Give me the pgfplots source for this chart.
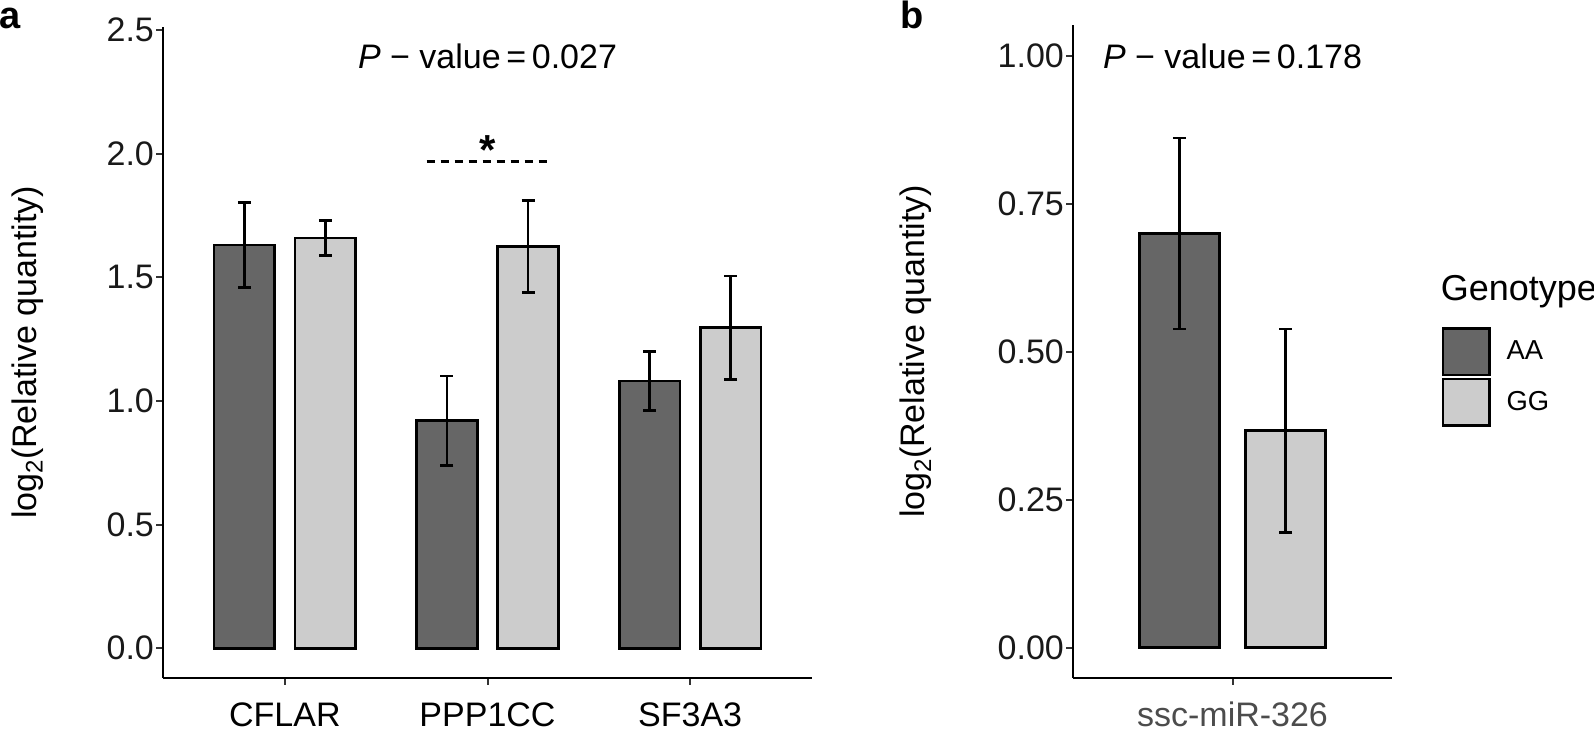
\documentclass[border=0pt]{standalone}
\usepackage{fontspec}
\setmainfont{Liberation Sans}
\usepackage{pgfplots}
\usepackage{pgfplotstable}
\pgfplotsset{compat=1.18}
\definecolor{aacol}{HTML}{666666}
\definecolor{ggcol}{HTML}{CCCCCC}
\newcommand{\fs}{\fontsize{17}{20}\selectfont}
\newcommand{\fl}{\fontsize{13.7}{16}\selectfont}
\newcommand{\logtwo}{log\raisebox{-0.35ex}{\fontsize{12}{14}\selectfont 2}}

\pgfplotstableread{
x y e
0 1.631 0.172
1 0.921 0.181
2 1.081 0.120
}\AAa
\pgfplotstableread{
x y e
0 1.659 0.070
1 1.625 0.186
2 1.296 0.210
}\GGa
\pgfplotstableread{
x y e
1 0.700 0.161
}\AAb
\pgfplotstableread{
x y e
1 0.367 0.172
}\GGb

\pgfplotsset{
  common/.style={
    scale only axis,
    axis x line*=bottom, axis y line*=left,
    axis line style={-, line width=1.1pt, black},
    tick align=outside, major tick length=3.5pt,
    tick style={line width=1pt, color=black!80},
    yticklabel style={font=\fs, color=black!90, anchor=east, inner sep=0pt, xshift=-1pt},
    xticklabel style={font=\fs, anchor=base, inner sep=0pt, text depth=0pt, yshift=-21pt},
    ylabel style={font=\fs, anchor=center},
    clip=false,
  },
  bars/.style={ybar, bar width=0.3, draw=black},
  errs/.style={forget plot, sharp plot, draw=none, mark=none,
    error bars/y dir=both, error bars/y explicit,
    error bars/error bar style={draw=black, line width=1.25pt},
    error bars/error mark options={draw=black, line width=1.25pt, mark size=3.25pt, rotate=90}},
}

\begin{document}
\begin{tikzpicture}
\path[use as bounding box] (0,0) rectangle (797pt,365.5pt);

\begin{axis}[common,
  at={(81.65pt,26.65pt)}, anchor=south west,
  width=324.2pt, height=325.35pt,
  xmin=-0.6, xmax=2.6, ymin=-0.1189, ymax=2.5124,
  xtick={0,1,2}, xticklabels={CFLAR,PPP1CC,SF3A3},
  ytick={0,0.5,1,1.5,2,2.5}, yticklabels={0.0,0.5,1.0,1.5,2.0,2.5},
  ylabel={\logtwo(Relative quantity)},
  ylabel style={at={(axis description cs:-0.2094,0.5)}},
]
\addplot[bars, fill=aacol, bar shift=-0.2, line width=1.3pt] table[x=x, y=y] {\AAa};
\addplot[bars, fill=ggcol, bar shift=0.2, line width=1.3pt] table[x=x, y=y] {\GGa};
\addplot[errs] table[x expr=\thisrow{x}-0.2, y=y, y error=e] {\AAa};
\addplot[errs] table[x expr=\thisrow{x}+0.2, y=y, y error=e] {\GGa};
\addplot[sharp plot, black, line width=1.2pt, dash pattern=on 4pt off 3pt, forget plot] coordinates {(0.7,1.968) (1.3,1.968)};
\node[font=\fontsize{21}{23}\selectfont\bfseries, anchor=base] at (axis cs:1,1.958) {*};
\node[font=\fs] at (axis cs:1,2.395) {\textit{P} − value\,=\,0.027};
\end{axis}

\begin{axis}[common,
  at={(536.65pt,26.65pt)}, anchor=south west,
  width=159.2pt, height=326.35pt,
  xmin=0.4, xmax=1.6, ymin=-0.0507, ymax=1.0524,
  xtick={1}, xticklabels={ssc-miR-326},
  xticklabel style={color=black!70},
  ytick={0,0.25,0.5,0.75,1}, yticklabels={0.00,0.25,0.50,0.75,1.00},
  ylabel={\logtwo(Relative quantity)},
  ylabel style={at={(axis description cs:-0.494,0.5)}},
  legend style={at={(axis description cs:1.157,0.537)}, anchor=north west,
    draw=none, fill=none, inner sep=0pt, outer sep=0pt, row sep=0.8pt, column sep=5.9pt,
    font=\fl, cells={anchor=west}},
]
\addplot[bars, fill=aacol, bar shift=-0.2, line width=1.3pt,
  legend image code/.code={\draw[fill=aacol, draw=black, line width=1.3pt] (0pt,-11.6pt) rectangle (23.2pt,11.6pt);}]
  table[x=x, y=y] {\AAb};
\addlegendentry{AA}
\addplot[bars, fill=ggcol, bar shift=0.2, line width=1.3pt,
  legend image code/.code={\draw[fill=ggcol, draw=black, line width=1.3pt] (0pt,-11.6pt) rectangle (23.2pt,11.6pt);}]
  table[x=x, y=y] {\GGb};
\addlegendentry{GG}
\addplot[errs] table[x expr=\thisrow{x}-0.2, y=y, y error=e] {\AAb};
\addplot[errs] table[x expr=\thisrow{x}+0.2, y=y, y error=e] {\GGb};
\node[font=\fs] at (axis cs:1,1.0) {\textit{P} − value\,=\,0.178};
\end{axis}

\node[anchor=base west, font=\fontsize{19}{22}\selectfont\bfseries, inner sep=0pt] at (-0.5pt,351pt) {a};
\node[anchor=base west, font=\fontsize{19}{22}\selectfont\bfseries, inner sep=0pt] at (450.2pt,351pt) {b};
\node[anchor=base west, font=\fontsize{18}{21}\selectfont, inner sep=0pt] at (720.2pt,215pt) {Genotype};
\end{tikzpicture}
\end{document}
